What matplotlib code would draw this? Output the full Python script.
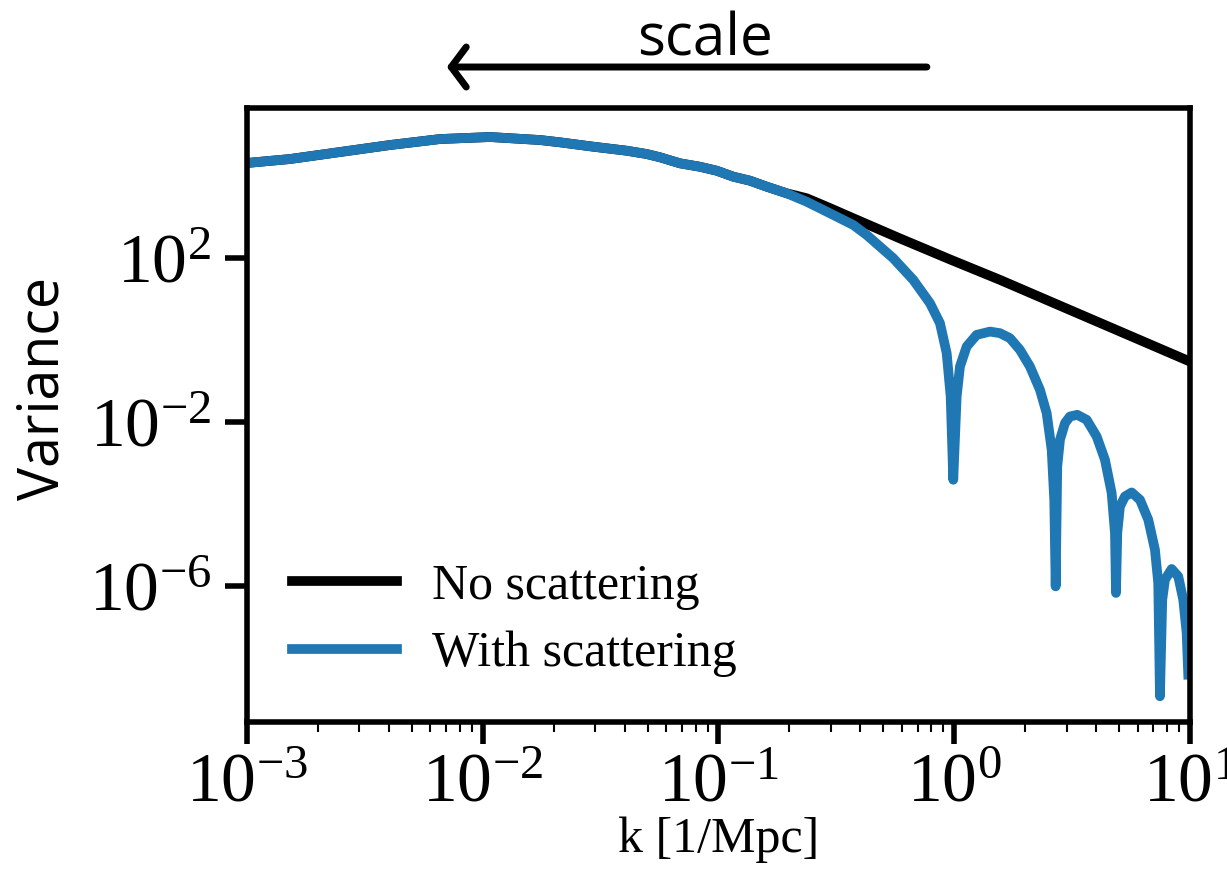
import numpy as np
import matplotlib
matplotlib.use('Agg')
import matplotlib.pyplot as plt
from matplotlib.ticker import NullLocator

plt.rcParams.update({
    'font.family': 'Liberation Serif',
    'mathtext.fontset': 'stix',
})

# shared part of both curves (k in 1/Mpc, variance)
k_common = [1.0e-3, 1.522e-3, 2.48e-3, 4.04e-3, 6.59e-3, 1.074e-2, 1.749e-2, 2.127e-2,
            2.944e-2, 4.08e-2, 4.96e-2, 5.65e-2, 6.87e-2, 8.34e-2, 9.83e-2,
            0.1156, 0.1360, 0.1602, 0.1947]
v_common = [2.05e4, 2.56e4, 3.79e4, 5.61e4, 7.85e4, 8.79e4, 7.43e4, 6.53e4,
            5.11e4, 4.08e4, 3.39e4, 2.82e4, 2.01e4, 1.66e4, 1.33e4,
            9.51e3, 7.60e3, 5.43e3, 3.75e3]

# no scattering tail
k_noscat = [0.2366, 0.2877, 0.3730, 0.589, 0.960, 1.564, 2.548, 4.153, 6.767, 10.0]
v_noscat = [2.84e3, 1.77e3, 925, 298, 91.9, 29.2, 8.74, 2.62, 0.786, 0.300]

# with scattering tail (damped oscillations)
k_scat = [0.2366, 0.2877, 0.3730, 0.4251, 0.5513, 0.6704, 0.7894, 0.8701, 0.9291,
          0.9660, 0.9908,
          1.0243, 1.0578, 1.129, 1.245, 1.418, 1.564, 1.724, 1.900, 2.096, 2.311,
          2.467, 2.591, 2.657, 2.694,
          2.736, 2.810, 2.950, 3.097, 3.327, 3.647, 4.021, 4.360, 4.655, 4.808, 4.856,
          4.917, 5.048, 5.300, 5.659, 6.138, 6.657, 7.105, 7.337, 7.460,
          7.630, 7.834, 8.364, 8.920, 9.367, 9.683, 9.835]
v_scat = [2.34e3, 1.34e3, 635, 363, 98.4, 29.2, 7.90, 2.58, 0.480,
          0.0422, 3.97e-4,
          0.0422, 0.2265, 0.695, 1.338, 1.610, 1.472, 1.112, 0.578, 0.2265, 0.0614,
          0.01665, 2.13e-3, 1.29e-4, 1.005e-6,
          8.36e-4, 3.73e-3, 9.51e-3, 0.01376, 0.01514, 0.01144, 4.49e-3, 1.216e-3,
          1.883e-4, 2.00e-5, 6.95e-7,
          2.00e-5, 8.89e-5, 1.557e-4, 1.948e-4, 1.29e-4, 4.22e-5, 7.86e-6, 1.216e-6,
          2.12e-9,
          4.77e-7, 1.464e-6, 2.665e-6, 1.761e-6, 4.77e-7, 7.39e-8, 7.14e-9]

k_black = k_common + k_noscat
v_black = v_common + v_noscat
k_blue = k_common + k_scat
v_blue = v_common + v_scat

fig = plt.figure(figsize=(12.27, 8.74), dpi=100)
ax = fig.add_axes([0.2013, 0.1739, 0.7685, 0.7025])

ax.plot(k_black, v_black, color='black', lw=7, label='No scattering')
ax.plot(k_blue, v_blue, color='#1f77b4', lw=7, label='With scattering')

ax.set_xscale('log')
ax.set_yscale('log')
ax.set_xlim(1e-3, 10)
ax.set_ylim(10**-9.3, 10**5.65)
ax.set_yticks([1e-6, 1e-2, 1e2])
ax.yaxis.set_minor_locator(NullLocator())

for s in ax.spines.values():
    s.set_linewidth(4)
ax.tick_params(which='major', length=16, width=4, labelsize=50, pad=6)
ax.tick_params(which='minor', length=7, width=1.5)
ax.tick_params(axis='y', which='major', pad=10)

ax.set_xlabel('k [1/Mpc]', fontsize=36, labelpad=0)
ax.set_ylabel('Variance', fontsize=40, family='Open Sans')
ax.yaxis.set_label_coords(-0.185, 0.544)

ax.legend(loc='lower left', fontsize=36, frameon=False, handlelength=2.1,
          handletextpad=0.7, labelspacing=0.42)

# scale arrow above the axes
ax.annotate('', xy=(0.212, 1.0668), xytext=(0.721, 1.0668),
            xycoords='axes fraction', textcoords='axes fraction',
            annotation_clip=False,
            arrowprops=dict(arrowstyle='->, head_length=0.27, head_width=0.36',
                            mutation_scale=40, lw=5, color='black',
                            shrinkA=0, shrinkB=0))
ax.text(0.486, 1.0863, 'scale', transform=ax.transAxes, ha='center', va='baseline',
        fontsize=42, family='Open Sans')

fig.savefig('out.png', dpi=100)
